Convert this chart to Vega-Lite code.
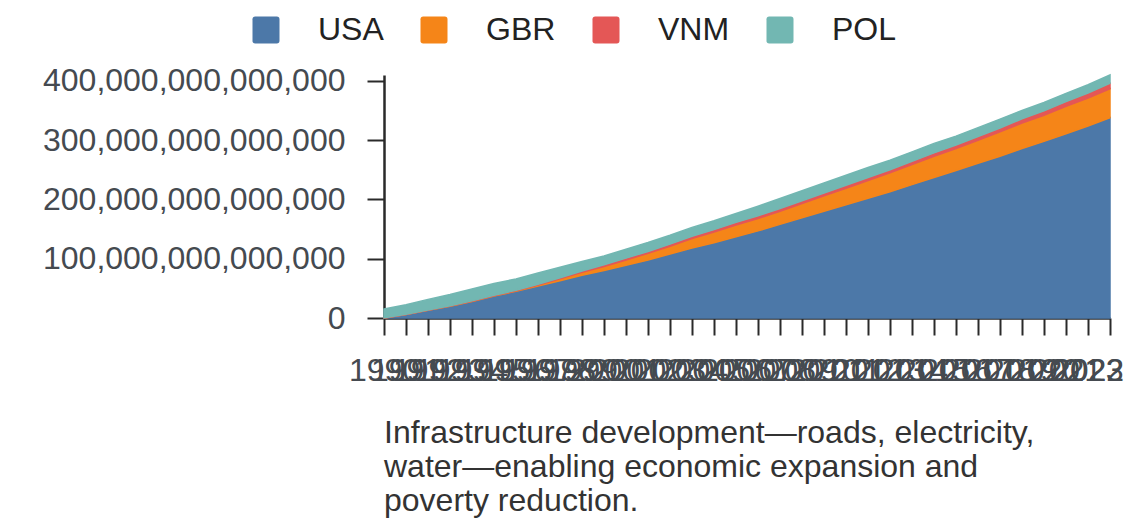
{
  "$schema": "https://vega.github.io/schema/vega-lite/v6.json",
  "width": 726,
  "height": 243,
  "autosize": {"type": "none"},
  "padding": {"left": 384, "top": 75, "right": 30, "bottom": 210},
  "background": "white",
  "config": {
    "font": "Liberation Sans",
    "view": {"stroke": null}
  },
  "title": {
    "text": ["Infrastructure development\u2014roads, electricity,", "water\u2014enabling economic expansion and", "poverty reduction."],
    "orient": "bottom",
    "anchor": "start",
    "frame": "group",
    "fontSize": 32,
    "fontWeight": "normal",
    "color": "#333333",
    "lineHeight": 34,
    "offset": 32
  },
  "data": {
    "values": [
      {"year": 1990, "country": "USA", "rank": 1, "value": 0},
      {"year": 1991, "country": "USA", "rank": 1, "value": 6e12},
      {"year": 1992, "country": "USA", "rank": 1, "value": 13e12},
      {"year": 1993, "country": "USA", "rank": 1, "value": 20e12},
      {"year": 1994, "country": "USA", "rank": 1, "value": 28e12},
      {"year": 1995, "country": "USA", "rank": 1, "value": 37e12},
      {"year": 1996, "country": "USA", "rank": 1, "value": 45e12},
      {"year": 1997, "country": "USA", "rank": 1, "value": 54e12},
      {"year": 1998, "country": "USA", "rank": 1, "value": 63e12},
      {"year": 1999, "country": "USA", "rank": 1, "value": 72e12},
      {"year": 2000, "country": "USA", "rank": 1, "value": 80e12},
      {"year": 2001, "country": "USA", "rank": 1, "value": 89e12},
      {"year": 2002, "country": "USA", "rank": 1, "value": 98e12},
      {"year": 2003, "country": "USA", "rank": 1, "value": 108e12},
      {"year": 2004, "country": "USA", "rank": 1, "value": 118e12},
      {"year": 2005, "country": "USA", "rank": 1, "value": 127e12},
      {"year": 2006, "country": "USA", "rank": 1, "value": 137e12},
      {"year": 2007, "country": "USA", "rank": 1, "value": 147e12},
      {"year": 2008, "country": "USA", "rank": 1, "value": 158e12},
      {"year": 2009, "country": "USA", "rank": 1, "value": 169e12},
      {"year": 2010, "country": "USA", "rank": 1, "value": 180e12},
      {"year": 2011, "country": "USA", "rank": 1, "value": 191e12},
      {"year": 2012, "country": "USA", "rank": 1, "value": 202e12},
      {"year": 2013, "country": "USA", "rank": 1, "value": 213e12},
      {"year": 2014, "country": "USA", "rank": 1, "value": 225e12},
      {"year": 2015, "country": "USA", "rank": 1, "value": 237e12},
      {"year": 2016, "country": "USA", "rank": 1, "value": 249e12},
      {"year": 2017, "country": "USA", "rank": 1, "value": 261e12},
      {"year": 2018, "country": "USA", "rank": 1, "value": 273e12},
      {"year": 2019, "country": "USA", "rank": 1, "value": 286e12},
      {"year": 2020, "country": "USA", "rank": 1, "value": 298e12},
      {"year": 2021, "country": "USA", "rank": 1, "value": 311e12},
      {"year": 2022, "country": "USA", "rank": 1, "value": 324e12},
      {"year": 2023, "country": "USA", "rank": 1, "value": 338e12},
      {"year": 1990, "country": "GBR", "rank": 2, "value": 0},
      {"year": 1991, "country": "GBR", "rank": 2, "value": 0},
      {"year": 1992, "country": "GBR", "rank": 2, "value": 0.1e12},
      {"year": 1993, "country": "GBR", "rank": 2, "value": 0.2e12},
      {"year": 1994, "country": "GBR", "rank": 2, "value": 0.3e12},
      {"year": 1995, "country": "GBR", "rank": 2, "value": 0.5e12},
      {"year": 1996, "country": "GBR", "rank": 2, "value": 0.8e12},
      {"year": 1997, "country": "GBR", "rank": 2, "value": 1.5e12},
      {"year": 1998, "country": "GBR", "rank": 2, "value": 3e12},
      {"year": 1999, "country": "GBR", "rank": 2, "value": 5e12},
      {"year": 2000, "country": "GBR", "rank": 2, "value": 7e12},
      {"year": 2001, "country": "GBR", "rank": 2, "value": 9e12},
      {"year": 2002, "country": "GBR", "rank": 2, "value": 11e12},
      {"year": 2003, "country": "GBR", "rank": 2, "value": 13e12},
      {"year": 2004, "country": "GBR", "rank": 2, "value": 16e12},
      {"year": 2005, "country": "GBR", "rank": 2, "value": 18e12},
      {"year": 2006, "country": "GBR", "rank": 2, "value": 20e12},
      {"year": 2007, "country": "GBR", "rank": 2, "value": 21e12},
      {"year": 2008, "country": "GBR", "rank": 2, "value": 22e12},
      {"year": 2009, "country": "GBR", "rank": 2, "value": 24e12},
      {"year": 2010, "country": "GBR", "rank": 2, "value": 26e12},
      {"year": 2011, "country": "GBR", "rank": 2, "value": 28e12},
      {"year": 2012, "country": "GBR", "rank": 2, "value": 30e12},
      {"year": 2013, "country": "GBR", "rank": 2, "value": 32e12},
      {"year": 2014, "country": "GBR", "rank": 2, "value": 34e12},
      {"year": 2015, "country": "GBR", "rank": 2, "value": 36e12},
      {"year": 2016, "country": "GBR", "rank": 2, "value": 37e12},
      {"year": 2017, "country": "GBR", "rank": 2, "value": 39e12},
      {"year": 2018, "country": "GBR", "rank": 2, "value": 41e12},
      {"year": 2019, "country": "GBR", "rank": 2, "value": 43e12},
      {"year": 2020, "country": "GBR", "rank": 2, "value": 44e12},
      {"year": 2021, "country": "GBR", "rank": 2, "value": 46e12},
      {"year": 2022, "country": "GBR", "rank": 2, "value": 47e12},
      {"year": 2023, "country": "GBR", "rank": 2, "value": 49e12},
      {"year": 1990, "country": "VNM", "rank": 3, "value": 0.1e12},
      {"year": 1991, "country": "VNM", "rank": 3, "value": 0.2e12},
      {"year": 1992, "country": "VNM", "rank": 3, "value": 0.3e12},
      {"year": 1993, "country": "VNM", "rank": 3, "value": 0.4e12},
      {"year": 1994, "country": "VNM", "rank": 3, "value": 0.6e12},
      {"year": 1995, "country": "VNM", "rank": 3, "value": 0.8e12},
      {"year": 1996, "country": "VNM", "rank": 3, "value": 1e12},
      {"year": 1997, "country": "VNM", "rank": 3, "value": 1.3e12},
      {"year": 1998, "country": "VNM", "rank": 3, "value": 1.7e12},
      {"year": 1999, "country": "VNM", "rank": 3, "value": 2.2e12},
      {"year": 2000, "country": "VNM", "rank": 3, "value": 2.7e12},
      {"year": 2001, "country": "VNM", "rank": 3, "value": 3e12},
      {"year": 2002, "country": "VNM", "rank": 3, "value": 3.3e12},
      {"year": 2003, "country": "VNM", "rank": 3, "value": 3.6e12},
      {"year": 2004, "country": "VNM", "rank": 3, "value": 3.9e12},
      {"year": 2005, "country": "VNM", "rank": 3, "value": 4.1e12},
      {"year": 2006, "country": "VNM", "rank": 3, "value": 4.3e12},
      {"year": 2007, "country": "VNM", "rank": 3, "value": 4.5e12},
      {"year": 2008, "country": "VNM", "rank": 3, "value": 4.6e12},
      {"year": 2009, "country": "VNM", "rank": 3, "value": 4.7e12},
      {"year": 2010, "country": "VNM", "rank": 3, "value": 4.8e12},
      {"year": 2011, "country": "VNM", "rank": 3, "value": 4.9e12},
      {"year": 2012, "country": "VNM", "rank": 3, "value": 5e12},
      {"year": 2013, "country": "VNM", "rank": 3, "value": 5.1e12},
      {"year": 2014, "country": "VNM", "rank": 3, "value": 5.3e12},
      {"year": 2015, "country": "VNM", "rank": 3, "value": 5.6e12},
      {"year": 2016, "country": "VNM", "rank": 3, "value": 5.9e12},
      {"year": 2017, "country": "VNM", "rank": 3, "value": 6.2e12},
      {"year": 2018, "country": "VNM", "rank": 3, "value": 6.6e12},
      {"year": 2019, "country": "VNM", "rank": 3, "value": 7e12},
      {"year": 2020, "country": "VNM", "rank": 3, "value": 7.5e12},
      {"year": 2021, "country": "VNM", "rank": 3, "value": 8e12},
      {"year": 2022, "country": "VNM", "rank": 3, "value": 8.5e12},
      {"year": 2023, "country": "VNM", "rank": 3, "value": 9e12},
      {"year": 1990, "country": "POL", "rank": 4, "value": 15e12},
      {"year": 1991, "country": "POL", "rank": 4, "value": 16e12},
      {"year": 1992, "country": "POL", "rank": 4, "value": 18e12},
      {"year": 1993, "country": "POL", "rank": 4, "value": 19e12},
      {"year": 1994, "country": "POL", "rank": 4, "value": 20e12},
      {"year": 1995, "country": "POL", "rank": 4, "value": 20e12},
      {"year": 1996, "country": "POL", "rank": 4, "value": 19e12},
      {"year": 1997, "country": "POL", "rank": 4, "value": 19e12},
      {"year": 1998, "country": "POL", "rank": 4, "value": 18e12},
      {"year": 1999, "country": "POL", "rank": 4, "value": 16e12},
      {"year": 2000, "country": "POL", "rank": 4, "value": 15e12},
      {"year": 2001, "country": "POL", "rank": 4, "value": 15e12},
      {"year": 2002, "country": "POL", "rank": 4, "value": 15e12},
      {"year": 2003, "country": "POL", "rank": 4, "value": 15e12},
      {"year": 2004, "country": "POL", "rank": 4, "value": 15e12},
      {"year": 2005, "country": "POL", "rank": 4, "value": 15e12},
      {"year": 2006, "country": "POL", "rank": 4, "value": 15e12},
      {"year": 2007, "country": "POL", "rank": 4, "value": 16e12},
      {"year": 2008, "country": "POL", "rank": 4, "value": 17e12},
      {"year": 2009, "country": "POL", "rank": 4, "value": 17e12},
      {"year": 2010, "country": "POL", "rank": 4, "value": 17e12},
      {"year": 2011, "country": "POL", "rank": 4, "value": 17e12},
      {"year": 2012, "country": "POL", "rank": 4, "value": 17e12},
      {"year": 2013, "country": "POL", "rank": 4, "value": 16e12},
      {"year": 2014, "country": "POL", "rank": 4, "value": 16e12},
      {"year": 2015, "country": "POL", "rank": 4, "value": 16e12},
      {"year": 2016, "country": "POL", "rank": 4, "value": 15e12},
      {"year": 2017, "country": "POL", "rank": 4, "value": 15e12},
      {"year": 2018, "country": "POL", "rank": 4, "value": 15e12},
      {"year": 2019, "country": "POL", "rank": 4, "value": 14e12},
      {"year": 2020, "country": "POL", "rank": 4, "value": 14e12},
      {"year": 2021, "country": "POL", "rank": 4, "value": 14e12},
      {"year": 2022, "country": "POL", "rank": 4, "value": 14e12},
      {"year": 2023, "country": "POL", "rank": 4, "value": 14e12}
    ]
  },
  "mark": {"type": "area", "strokeWidth": 1.5, "strokeJoin": "miter"},
  "encoding": {
    "x": {
      "field": "year",
      "type": "ordinal",
      "scale": {"padding": 0},
      "axis": {
        "title": null,
        "labelAngle": 0,
        "labelOverlap": false,
        "labelFontSize": 32,
        "labelColor": "#454a50",
        "labelPadding": 20,
        "labelAlign": {"condition": {"test": "datum.value == 2023", "value": "right"}, "value": "center"},
        "labelOffset": {"condition": {"test": "datum.value == 2023", "value": 13}, "value": 0},
        "tickSize": 17,
        "tickWidth": 2,
        "tickColor": "#2a2a2a",
        "domainWidth": 2.5,
        "domainColor": "#2a2a2a"
      }
    },
    "y": {
      "field": "value",
      "type": "quantitative",
      "stack": "zero",
      "scale": {"nice": false, "zero": true},
      "axis": {
        "title": null,
        "values": [0, 100000000000000, 200000000000000, 300000000000000, 400000000000000],
        "format": ",.0f",
        "grid": false,
        "labelLimit": 0,
        "labelFontSize": 32,
        "labelColor": "#454a50",
        "labelPadding": 22,
        "tickSize": 17,
        "tickWidth": 2,
        "tickColor": "#2a2a2a",
        "domainWidth": 2.5,
        "domainColor": "#2a2a2a"
      }
    },
    "order": {"field": "rank", "type": "quantitative", "sort": "ascending"},
    "color": {
      "field": "country",
      "type": "nominal",
      "sort": ["USA", "GBR", "VNM", "POL"],
      "scale": {"domain": ["USA", "GBR", "VNM", "POL"], "range": ["#4c78a8", "#f58518", "#e45756", "#72b7b2"]},
      "legend": {
        "title": null,
        "orient": "none",
        "legendX": -134,
        "legendY": -61,
        "direction": "horizontal",
        "labelFontSize": 32,
        "labelColor": "#222222",
        "symbolType": "M-1,-0.8Q-1,-1,-0.8,-1L0.8,-1Q1,-1,1,-0.8L1,0.8Q1,1,0.8,1L-0.8,1Q-1,1,-1,0.8Z",
        "symbolSize": 729,
        "symbolStrokeWidth": 0,
        "symbolOpacity": 1,
        "labelOffset": 36,
        "columnPadding": 34
      }
    },
    "stroke": {
      "field": "country",
      "type": "nominal",
      "sort": ["USA", "GBR", "VNM", "POL"],
      "scale": {"domain": ["USA", "GBR", "VNM", "POL"], "range": ["#4c78a8", "#f58518", "#e45756", "#72b7b2"]},
      "legend": null
    }
  }
}
